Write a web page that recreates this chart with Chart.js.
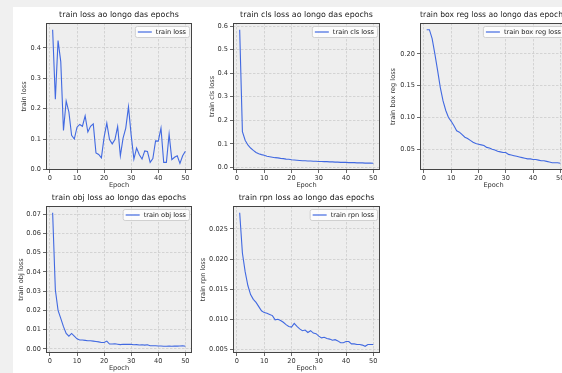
<!DOCTYPE html>
<html>
<head>
<meta charset="utf-8">
<script src="https://cdn.jsdelivr.net/npm/chart.js@4.4.0/dist/chart.umd.min.js"></script>
<style>
body { margin: 0; background: #f0f0f0; overflow: hidden; width: 562px; height: 373px; }
#fig { position: absolute; left: 13px; top: 7px; width: 600px; height: 400px; background: #fff; }
canvas { position: absolute; }
</style>
</head>
<body>
<div id="fig"></div>
<canvas id="c1"></canvas>
<canvas id="c2"></canvas>
<canvas id="c3"></canvas>
<canvas id="c4"></canvas>
<canvas id="c5"></canvas>
<script>
var epochs = [1, 2, 3, 4, 5, 6, 7, 8, 9, 10, 11, 12, 13, 14, 15, 16, 17, 18, 19, 20,
    21, 22, 23, 24, 25, 26, 27, 28, 29, 30, 31, 32, 33, 34, 35, 36, 37, 38, 39, 40,
    41, 42, 43, 44, 45, 46, 47, 48, 49, 50];

var trainLoss = [0.460, 0.231, 0.424, 0.355, 0.128, 0.225, 0.189, 0.112, 0.100, 0.139,
    0.148, 0.142, 0.176, 0.123, 0.142, 0.150, 0.054, 0.049, 0.038, 0.106,
    0.152, 0.098, 0.084, 0.098, 0.141, 0.045, 0.103, 0.136, 0.206, 0.112,
    0.034, 0.070, 0.048, 0.034, 0.061, 0.059, 0.023, 0.036, 0.094, 0.093,
    0.136, 0.023, 0.023, 0.116, 0.032, 0.040, 0.045, 0.020, 0.045, 0.060];

var trainClsLoss = [0.585, 0.152, 0.115, 0.095, 0.082, 0.072, 0.063, 0.058, 0.054, 0.051,
    0.047, 0.045, 0.043, 0.041, 0.040, 0.038, 0.037, 0.035, 0.034, 0.032,
    0.031, 0.030, 0.029, 0.028, 0.028, 0.027, 0.027, 0.026, 0.026, 0.025,
    0.025, 0.024, 0.024, 0.023, 0.023, 0.022, 0.022, 0.021, 0.021, 0.021,
    0.020, 0.020, 0.020, 0.019, 0.019, 0.019, 0.018, 0.018, 0.018, 0.017];

var trainBoxRegLoss = [0.238, 0.238, 0.224, 0.200, 0.174, 0.147, 0.126, 0.111, 0.100, 0.094,
    0.087, 0.079, 0.077, 0.073, 0.069, 0.067, 0.064, 0.061, 0.059, 0.058,
    0.057, 0.056, 0.053, 0.052, 0.050, 0.049, 0.047, 0.046, 0.045, 0.045,
    0.042, 0.041, 0.040, 0.039, 0.038, 0.037, 0.036, 0.035, 0.035, 0.034,
    0.034, 0.033, 0.032, 0.032, 0.031, 0.030, 0.029, 0.029, 0.029, 0.028];

var trainObjLoss = [0.0707, 0.0307, 0.0200, 0.0158, 0.0115, 0.0080, 0.0066, 0.0080, 0.0066, 0.0052,
    0.0046, 0.0046, 0.0044, 0.0042, 0.0042, 0.0040, 0.0038, 0.0036, 0.0033, 0.0033,
    0.0040, 0.0025, 0.0025, 0.0026, 0.0024, 0.0022, 0.0024, 0.0023, 0.0023, 0.0023,
    0.0021, 0.0022, 0.0020, 0.0021, 0.0019, 0.0021, 0.0016, 0.0016, 0.0016, 0.0015,
    0.0015, 0.0013, 0.0013, 0.0014, 0.0013, 0.0015, 0.0014, 0.0015, 0.0016, 0.0013];

var trainRpnLoss = [0.0277, 0.0210, 0.0179, 0.0156, 0.0141, 0.0133, 0.0128, 0.0121, 0.0114, 0.0111,
    0.0110, 0.0108, 0.0106, 0.0099, 0.0100, 0.0098, 0.0095, 0.0091, 0.0088, 0.0087,
    0.0093, 0.0088, 0.0084, 0.0081, 0.0082, 0.0078, 0.0081, 0.0077, 0.0076, 0.0072,
    0.0069, 0.0070, 0.0068, 0.0067, 0.0065, 0.0066, 0.0064, 0.0061, 0.0061, 0.0063,
    0.0063, 0.0059, 0.0059, 0.0058, 0.0058, 0.0057, 0.0055, 0.0058, 0.0058, 0.0058];

var FONT = '"DejaVu Sans", sans-serif';
var LINE = '#4169e1';
var AXW = 46, TOPH = 20, BOTH = 22, PADR = 10;

// fundo cinza dos eixos, moldura e legenda estilo matplotlib
var frameLegend = {
    id: 'frameLegend',
    beforeDraw: function (chart) {
        var a = chart.chartArea, ctx = chart.ctx;
        ctx.save();
        ctx.fillStyle = '#eeeeee';
        ctx.fillRect(a.left, a.top, a.right - a.left, a.bottom - a.top);
        ctx.restore();
    },
    afterDraw: function (chart) {
        var a = chart.chartArea, ctx = chart.ctx;
        var ds = chart.data.datasets[0];
        ctx.save();
        ctx.strokeStyle = '#444';
        ctx.lineWidth = 1;
        ctx.strokeRect(a.left + 0.5, a.top + 0.5, a.right - a.left - 1, a.bottom - a.top - 1);

        ctx.font = '6.6px ' + FONT;
        var tw = ctx.measureText(ds.label).width;
        var bw = tw + 24, bh = 11;
        var bx = a.right - 3 - bw, by = a.top + 3;
        ctx.beginPath();
        ctx.roundRect(bx + 0.5, by + 0.5, bw, bh, 2);
        ctx.fillStyle = 'rgba(255,255,255,0.8)';
        ctx.fill();
        ctx.strokeStyle = '#d0d0d0';
        ctx.stroke();
        ctx.beginPath();
        ctx.moveTo(bx + 3, by + bh / 2 + 0.5);
        ctx.lineTo(bx + 17, by + bh / 2 + 0.5);
        ctx.strokeStyle = ds.borderColor;
        ctx.lineWidth = 1.2;
        ctx.stroke();
        ctx.fillStyle = '#222';
        ctx.textBaseline = 'middle';
        ctx.fillText(ds.label, bx + 21, by + bh / 2 + 1);
        ctx.restore();
    }
};

function makeChart(p) {
    var cv = document.getElementById(p.id);
    var fw = p.frame[2] - p.frame[0], fh = p.frame[3] - p.frame[1];
    cv.width = AXW + fw + PADR;
    cv.height = TOPH + fh + BOTH;
    cv.style.left = (p.frame[0] - AXW) + 'px';
    cv.style.top = (p.frame[1] - TOPH) + 'px';

    var lo = Math.min.apply(null, p.values), hi = Math.max.apply(null, p.values);
    var my = (hi - lo) * 0.05;
    var mx = (epochs[epochs.length - 1] - epochs[0]) * 0.05;

    var tickFont = { family: FONT, size: 6.6 };
    var grid = { color: '#cccccc', lineWidth: 0.8, tickLength: 3, tickColor: '#444', tickWidth: 0.8 };
    var border = { display: false, dash: [2.5, 1.5] };

    return new Chart(cv, {
        type: 'line',
        data: {
            datasets: [{
                label: p.label,
                data: epochs.map(function (e, i) { return { x: e, y: p.values[i] }; }),
                borderColor: LINE,
                borderWidth: 1.1,
                pointRadius: 0,
                fill: false,
                tension: 0
            }]
        },
        options: {
            responsive: false,
            animation: false,
            devicePixelRatio: 1,
            layout: { padding: { left: 0, right: PADR, top: 0, bottom: 0 } },
            plugins: {
                legend: { display: false },
                tooltip: { enabled: false },
                title: {
                    display: true,
                    fullSize: false,
                    text: p.title,
                    color: '#222',
                    font: { family: FONT, size: 7.9, weight: 'normal' },
                    padding: { top: 7.26, bottom: 3.26 }
                }
            },
            scales: {
                x: {
                    type: 'linear',
                    min: epochs[0] - mx,
                    max: epochs[epochs.length - 1] + mx,
                    afterFit: function (s) { s.height = BOTH; },
                    ticks: { stepSize: 10, includeBounds: false, font: tickFont, color: '#333', padding: 1, maxRotation: 0 },
                    grid: grid,
                    border: border,
                    title: { display: true, text: 'Epoch', color: '#333', font: tickFont, padding: { top: 0, bottom: 3 } }
                },
                y: {
                    min: lo - my,
                    max: hi + my,
                    afterFit: function (s) { s.width = AXW; },
                    ticks: {
                        stepSize: p.step, includeBounds: false, font: tickFont, color: '#333', padding: 2,
                        callback: function (v) { return v.toFixed(p.decimals); }
                    },
                    grid: grid,
                    border: border,
                    title: { display: true, text: p.ylabel, color: '#333', font: tickFont, padding: { top: AXW - p.ygap - 3.96, bottom: 0 } }
                }
            }
        },
        plugins: [frameLegend]
    });
}

makeChart({ id: 'c1', title: 'train loss ao longo das epochs', label: 'train loss', ylabel: 'train loss',
    values: trainLoss, step: 0.1, decimals: 1, frame: [46, 23, 192, 170], ygap: 22 });
makeChart({ id: 'c2', title: 'train cls loss ao longo das epochs', label: 'train cls loss', ylabel: 'train cls loss',
    values: trainClsLoss, step: 0.1, decimals: 1, frame: [233, 23, 380, 170], ygap: 21 });
makeChart({ id: 'c3', title: 'train box reg loss ao longo das epochs', label: 'train box reg loss', ylabel: 'train box reg loss',
    values: trainBoxRegLoss, step: 0.05, decimals: 2, frame: [420, 23, 567, 170], ygap: 27 });
makeChart({ id: 'c4', title: 'train obj loss ao longo das epochs', label: 'train obj loss', ylabel: 'train obj loss',
    values: trainObjLoss, step: 0.01, decimals: 2, frame: [46, 206, 192, 353], ygap: 25 });
makeChart({ id: 'c5', title: 'train rpn loss ao longo das epochs', label: 'train rpn loss', ylabel: 'train rpn loss',
    values: trainRpnLoss, step: 0.005, decimals: 3, frame: [233, 206, 380, 353], ygap: 30 });
</script>
</body>
</html>
